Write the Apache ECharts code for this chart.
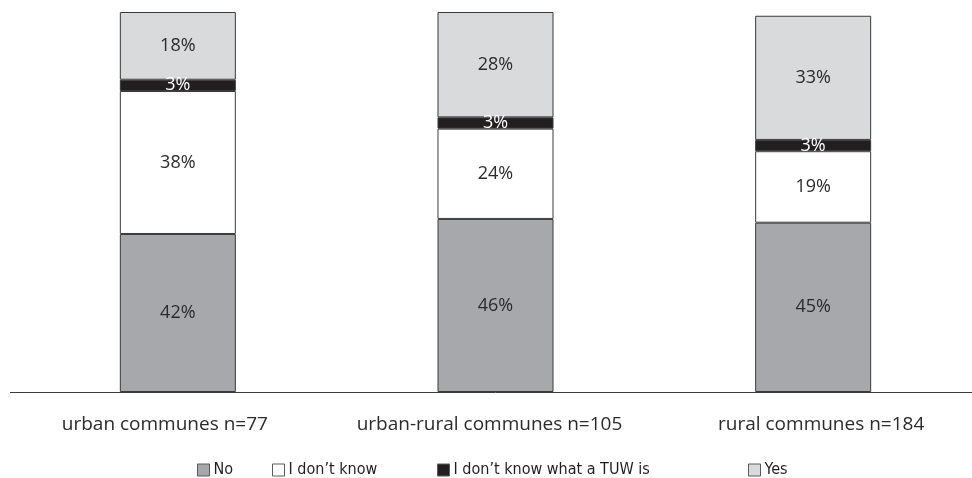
<!DOCTYPE html>
<html>
<head>
<meta charset="utf-8">
<script src="https://cdn.jsdelivr.net/npm/echarts@6/dist/echarts.min.js"></script>
<style>
  html, body { margin: 0; padding: 0; background: #ffffff; }
  #chart { width: 972px; height: 478px; }
</style>
</head>
<body>
<div id="chart"></div>
<script>
// Survey answers by commune type, in percent of respondents
const categories = ['urban communes n=77', 'urban-rural communes n=105', 'rural communes n=184'];
const seriesNames = ['No', 'I don\u2019t know', 'I don\u2019t know what a TUW is', 'Yes'];
const noValues = [42, 46, 45];
const dontKnowValues = [38, 24, 19];
const unknownTuwValues = [3, 3, 3];
const yesValues = [18, 28, 33];

const colors = ['#a7a8ab', '#ffffff', '#231f20', '#d9dadb'];
const labelColors = ['#2b2b2b', '#2b2b2b', '#ffffff', '#2b2b2b'];
const valueSets = [noValues, dontKnowValues, unknownTuwValues, yesValues];

const chart = echarts.init(document.getElementById('chart'), null, { renderer: 'canvas' });

const labelFont = '"Open Sans", Lato, "Noto Sans", sans-serif';
const legendFont = '"DejaVu Sans Condensed", "Noto Sans", sans-serif';

const series = seriesNames.map((name, i) => ({
  name: name,
  type: 'bar',
  stack: 'total',
  barWidth: 116,
  data: valueSets[i],
  itemStyle: { color: colors[i], borderColor: '#3a3a3a', borderWidth: 1 },
  label: {
    show: true,
    position: 'inside',
    formatter: '{c}%',
    color: labelColors[i],
    fontFamily: labelFont,
    fontSize: 18
  },
  emphasis: { disabled: true }
}));

// one legend block per answer so each entry sits in its own column
const legendLefts = [192, 267, 432, 743];
const legends = seriesNames.map((name, i) => ({
  data: [name],
  left: legendLefts[i],
  top: 457,
  itemWidth: 12,
  itemHeight: 12,
  itemGap: 0,
  icon: 'rect',
  selectedMode: false,
  textStyle: { color: '#231f20', fontFamily: legendFont, fontSize: 16, padding: [0, 0, 0, -1] },
  itemStyle: { borderColor: '#5a5a5a', borderWidth: 1 }
}));

// category labels sit slightly off the bar centres
const labelShift = [[0, 26, 0, 0], [0, 12, 0, 0], [0, 0, 0, 16]];
const axisRich = {};
labelShift.forEach((p, i) => {
  axisRich['c' + i] = { padding: p, color: '#2b2b2b', fontFamily: labelFont, fontSize: 19 };
});

chart.setOption({
  animation: false,
  color: colors,
  legend: legends,
  grid: { left: 19, right: 0, top: 12, bottom: 86, containLabel: false },
  xAxis: {
    type: 'category',
    data: categories,
    axisLine: { show: true, lineStyle: { color: '#3a3a3a', width: 1 } },
    axisTick: { show: false },
    axisLabel: {
      interval: 0,
      margin: 23,
      formatter: (value, index) => '{c' + index + '|' + value + '}',
      rich: axisRich
    }
  },
  yAxis: {
    type: 'value',
    min: 0,
    max: 101,
    show: false,
    splitLine: { show: false }
  },
  series: series
});

// carry the baseline a little past the plot's left edge
const base = Math.round(chart.convertToPixel({ yAxisIndex: 0 }, 0)) + 0.5;
chart.setOption({
  graphic: [{
    type: 'line',
    shape: { x1: 10, y1: base, x2: 20, y2: base },
    style: { stroke: '#3a3a3a', lineWidth: 1 },
    silent: true
  }]
});
</script>
</body>
</html>
